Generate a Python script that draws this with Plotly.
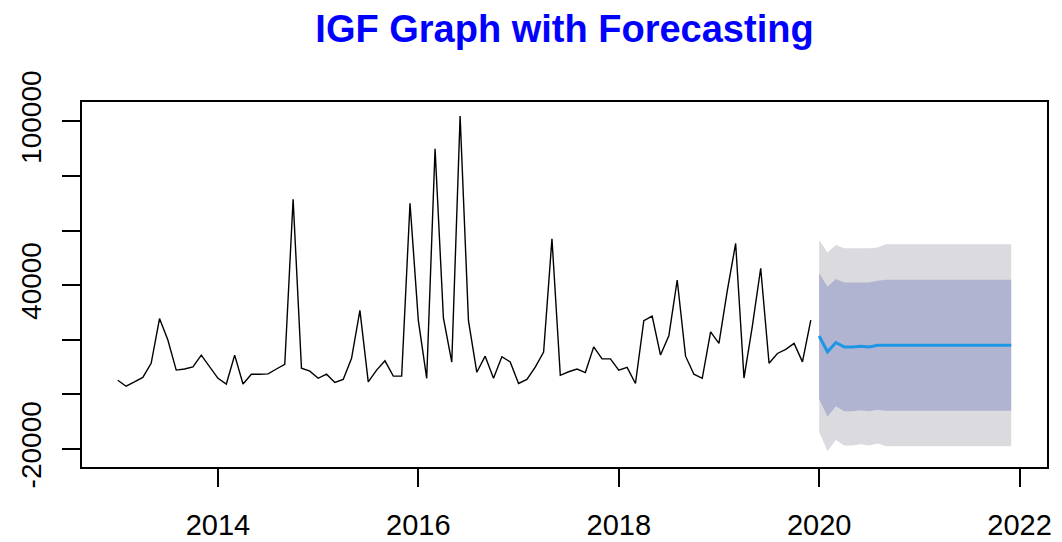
import plotly.graph_objects as go

# ---- data ----
start_year = 2013
history = [
    5200, 3000, 4600, 6200, 11400, 27800, 19900, 8900, 9300, 10100, 14400, 10100,      # 2013
    5900, 3800, 14400, 3800, 7400, 7400, 7500, 9300, 11000, 71500, 9600, 8500,        # 2014
    5900, 7400, 4400, 5500, 13200, 30800, 4600, 8900, 12300, 6700, 6700, 70000,       # 2015
    27000, 5900, 90000, 28000, 11800, 102000, 27000, 8100, 14000, 5900, 13800, 11900, # 2016
    4000, 5500, 10000, 15500, 57000, 7000, 8300, 9300, 8000, 17400, 13000, 13000,     # 2017
    8900, 9900, 4000, 27000, 28700, 14400, 21500, 41900, 14000, 7400, 5900, 22900,    # 2018
    18700, 38000, 55300, 6000, 25000, 46200, 11400, 15000, 16500, 18700, 11900, 27200 # 2019
]
fc_start = 2020
fc_mean = [21400, 15600, 19000, 17400, 17400, 17600, 17400, 18000,
           18000, 18000, 18000, 18000, 18000, 18000, 18000, 18000,
           18000, 18000, 18000, 18000, 18000, 18000, 18000, 18000]
fc_hi95 = [56500, 52000, 54700, 53500, 53500, 53500, 53500, 53800,
           55000, 55000, 55000, 55000, 55000, 55000, 55000, 55000,
           55000, 55000, 55000, 55000, 55000, 55000, 55000, 55000]
fc_lo95 = [-13700, -20800, -16700, -18700, -18700, -18300, -18700, -18000,
           -19000, -19000, -19000, -19000, -19000, -19000, -19000, -19000,
           -19000, -19000, -19000, -19000, -19000, -19000, -19000, -19000]
fc_hi80 = [44400, 39400, 42300, 41000, 41000, 41000, 41000, 41600,
           42000, 42000, 42000, 42000, 42000, 42000, 42000, 42000,
           42000, 42000, 42000, 42000, 42000, 42000, 42000, 42000]
fc_lo80 = [-1600, -8200, -4300, -6200, -6200, -5800, -6200, -5600,
           -6000, -6000, -6000, -6000, -6000, -6000, -6000, -6000,
           -6000, -6000, -6000, -6000, -6000, -6000, -6000, -6000]
x_ticks = [2014, 2016, 2018, 2020, 2022]
y_ticks = [-20000, 0, 20000, 40000, 60000, 80000, 100000]
y_tick_text = ["-20000", "", "", "40000", "", "", "100000"]
title_text = "IGF Graph with Forecasting"

# ---- time axes ----
hx = [start_year + i / 12 for i in range(len(history))]
fx = [fc_start + j / 12 for j in range(len(fc_mean))]

fig = go.Figure()
fig.add_trace(go.Scatter(
    x=fx + fx[::-1], y=fc_hi95 + fc_lo95[::-1], fill="toself",
    fillcolor="#DBDBDF", line=dict(width=0), mode="lines",
    hoverinfo="skip", showlegend=False))
fig.add_trace(go.Scatter(
    x=fx + fx[::-1], y=fc_hi80 + fc_lo80[::-1], fill="toself",
    fillcolor="#B0B4D0", line=dict(width=0), mode="lines",
    hoverinfo="skip", showlegend=False))
fig.add_trace(go.Scatter(
    x=hx, y=history, mode="lines", line=dict(color="black", width=1.4),
    showlegend=False))
fig.add_trace(go.Scatter(
    x=fx, y=fc_mean, mode="lines", line=dict(color="#1E96E6", width=3),
    showlegend=False))

font_family = "Liberation Sans, Arial, sans-serif"
W, H = 1054, 534
fig.update_layout(
    width=W, height=H,
    margin=dict(l=74, r=15, t=94, b=75, autoexpand=False),
    plot_bgcolor="white", paper_bgcolor="white",
    font=dict(family=font_family, color="black"),
    title=dict(text="<b>" + title_text + "</b>", x=0.5, xref="paper",
               y=1 - 21 / H, yref="container", yanchor="middle",
               xanchor="center",
               font=dict(size=38, color="#0000FF", family=font_family)),
)
fig.update_xaxes(
    range=[2012.643, 2022.274], tickvals=x_ticks, automargin=False,
    showgrid=False, zeroline=False,
    showline=True, linecolor="black", linewidth=1.5, mirror=True,
    ticks="outside", ticklen=18, tickwidth=1.5, tickcolor="black",
    tickfont=dict(size=29), ticklabelstandoff=13)
fig.update_yaxes(
    range=[-26593, 107106], tickvals=y_ticks, ticktext=y_tick_text,
    tickangle=-90, automargin=False,
    showgrid=False, zeroline=False,
    showline=True, linecolor="black", linewidth=1.5, mirror=True,
    ticks="outside", ticklen=18, tickwidth=1.5, tickcolor="black",
    tickfont=dict(size=28), ticklabelstandoff=10)

fig.write_html("out.html")
